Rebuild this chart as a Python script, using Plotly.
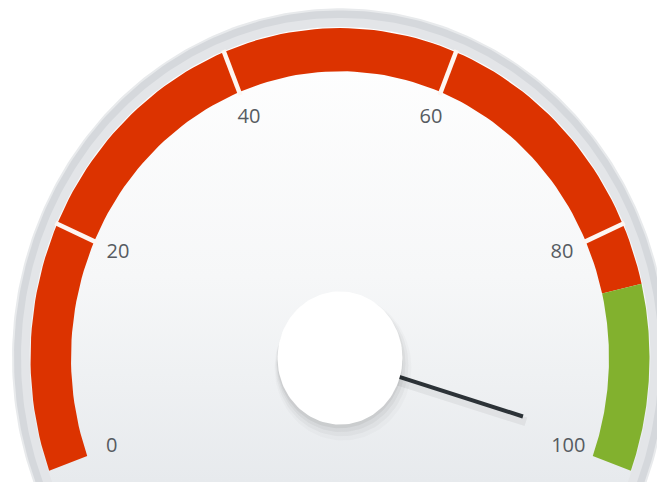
import numpy as np
import plotly.graph_objects as go

# ---------------- data ----------------
tick_values = [0, 20, 40, 60, 80, 100]
tick_labels = ["0", "20", "40", "60", "80", "100"]
range_starts = [0, 85]
range_ends = [85, 100]
range_colors = ["#dc3300", "#82b12e"]
divider_values = [20, 40, 60, 80]
needle_value = 98.5
gauge_min, gauge_max = 0, 100

# ---------------- geometry / style ----------------
START_ANGLE, END_ANGLE = 200.0, -20.0
R_FACE, R_RIM_IN, R_BAND_OUT, R_BAND_IN = 326.0, 319.0, 309.5, 269.0
R_LABEL, R_NEEDLE, R_HUB = 243.0, 191.0, 62.5
Y_CLIP = -116.3


def ang(v):
    f = (v - gauge_min) / (gauge_max - gauge_min)
    return np.radians(START_ANGLE + (END_ANGLE - START_ANGLE) * f)


def clipped_disk(r, yclip=Y_CLIP, n=240):
    a1 = np.arcsin(max(-1.0, min(1.0, yclip / r)))
    t = np.linspace(a1, np.pi - a1, n)
    x = list(r * np.cos(t)) + [r * np.cos(a1)]
    y = list(r * np.sin(t)) + [r * np.sin(a1)]
    return x, y


def band(a, b, r0, r1, n=120):
    t = np.linspace(ang(a), ang(b), n)
    x = list(r1 * np.cos(t)) + list(r0 * np.cos(t[::-1]))
    y = list(r1 * np.sin(t)) + list(r0 * np.sin(t[::-1]))
    return x + [x[0]], y + [y[0]]


def disk(cx, cy, r, n=120):
    t = np.linspace(0, 2 * np.pi, n)
    return cx + r * np.cos(t), cy + r * np.sin(t)


fig = go.Figure()

# outer rim
x, y = clipped_disk(R_FACE + 2)
fig.add_trace(go.Scatter(x=x, y=y, fill="toself", mode="lines", line=dict(width=0),
                         fillcolor="#e8eaec", hoverinfo="skip"))
x, y = clipped_disk(R_FACE)
fig.add_trace(go.Scatter(x=x, y=y, fill="toself", mode="lines", line=dict(width=0),
                         fillcolor="#d5d8dc", hoverinfo="skip"))
x, y = clipped_disk(R_RIM_IN)
fig.add_trace(go.Scatter(x=x, y=y, fill="toself", mode="lines", line=dict(width=0),
                         fillcolor="#e3e5e8", hoverinfo="skip"))
# face with vertical gradient
x, y = clipped_disk(R_BAND_OUT + 1)
fig.add_trace(go.Scatter(x=x, y=y, fill="toself", mode="lines", line=dict(width=0),
                         fillgradient=dict(type="vertical",
                                           colorscale=[[0, "#e7eaed"], [0.45, "#f6f7f8"], [1, "#ffffff"]]),
                         hoverinfo="skip"))

# ranges
for a, b, c in zip(range_starts, range_ends, range_colors):
    x, y = band(a, b, R_BAND_IN, R_BAND_OUT)
    fig.add_trace(go.Scatter(x=x, y=y, fill="toself", mode="lines", line=dict(width=0),
                             fillcolor=c, hoverinfo="skip"))

# white dividers
for v in divider_values:
    t = ang(v)
    fig.add_trace(go.Scatter(x=[(R_BAND_IN - 3) * np.cos(t), (R_BAND_OUT + 2) * np.cos(t)],
                             y=[(R_BAND_IN - 3) * np.sin(t), (R_BAND_OUT + 2) * np.sin(t)],
                             mode="lines", line=dict(color="#fdf6f2", width=4.5), hoverinfo="skip"))

# tick labels
ta = np.array([ang(v) for v in tick_values])
fig.add_trace(go.Scatter(x=R_LABEL * np.cos(ta), y=R_LABEL * np.sin(ta), mode="text",
                         text=tick_labels, textposition="middle center",
                         textfont=dict(family="Open Sans", size=20, color="#565b61"),
                         hoverinfo="skip"))

# needle (shadow + needle)
tn = ang(needle_value)
fig.add_trace(go.Scatter(x=[2, R_NEEDLE * np.cos(tn) + 3], y=[-5, R_NEEDLE * np.sin(tn) - 5],
                         mode="lines", line=dict(color="rgba(0,0,0,0.05)", width=9), hoverinfo="skip"))
fig.add_trace(go.Scatter(x=[0, R_NEEDLE * np.cos(tn)], y=[0, R_NEEDLE * np.sin(tn)],
                         mode="lines", line=dict(color="#2c3237", width=4), hoverinfo="skip"))

# hub shadow + hub
for dr, dx, dy, op in [(6, 3, -9, 0.02), (4, 2, -7, 0.03), (2, 1, -5, 0.04), (0.5, 0, -3, 0.05)]:
    x, y = disk(dx, dy, R_HUB + dr)
    fig.add_trace(go.Scatter(x=x, y=y, fill="toself", mode="lines", line=dict(width=0),
                             fillcolor=f"rgba(0,0,0,{op})", hoverinfo="skip"))
x, y = disk(0, 0, R_HUB)
fig.add_trace(go.Scatter(x=x, y=y, fill="toself", mode="lines", line=dict(width=0),
                         fillcolor="#ffffff", hoverinfo="skip"))

# the page body has an 8px margin, so the axis ranges are offset by 8px
fig.update_layout(
    width=665, height=491, margin=dict(l=0, r=0, t=0, b=0),
    paper_bgcolor="white", plot_bgcolor="white", showlegend=False,
    xaxis=dict(range=[-332, 333], visible=False, fixedrange=True),
    yaxis=dict(range=[-132.3, 328.3], visible=False, fixedrange=True),
)

fig.write_html("out.html", config={"displayModeBar": False})
